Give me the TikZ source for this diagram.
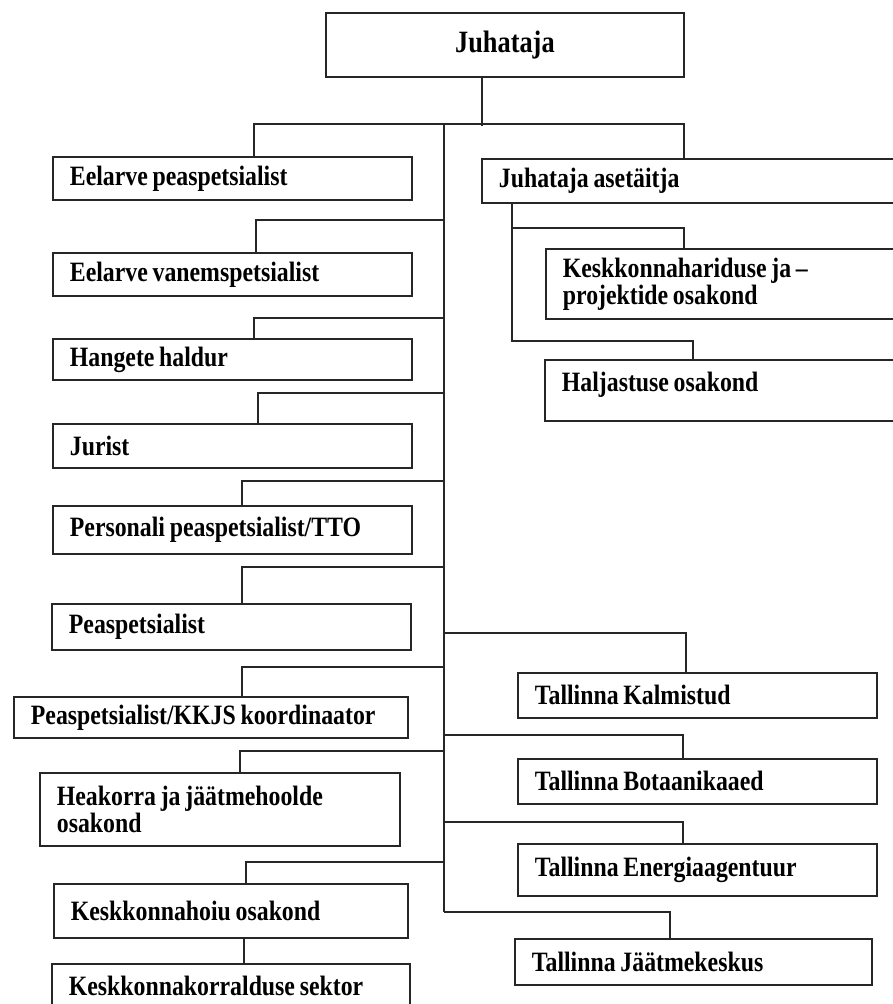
\documentclass[tikz,border=0pt]{standalone}
\usepackage{fontspec}
\setmainfont{Liberation Serif}[FakeStretch=0.85,WordSpace=0.8]
\begin{document}
\begin{tikzpicture}[x=1pt,y=-1pt,
  unit/.style={draw=black!85,line width=1.8pt,anchor=north west,inner xsep=17pt,inner ysep=2pt,align=flush left,font=\bfseries\fontsize{28}{27}\selectfont},
  ln/.style={draw=black!85,line width=1.3pt}]
  \useasboundingbox (0,0) rectangle (893,1004);
  \clip (0,0) rectangle (893,1004);
  \node[unit,align=center,text width=324pt,minimum height=64pt,font=\bfseries\fontsize{31}{32}\selectfont] (juh) at (325,12) {Juhataja};
  \node[unit,text width=325pt,minimum height=43pt] (eps) at (52,156) {Eelarve peaspetsialist};
  \node[unit,text width=405pt,minimum height=44pt] (asj) at (481,158) {Juhataja asetäitja};
  \node[unit,text width=325pt,minimum height=43pt] (evs) at (52,252) {Eelarve vanemspetsialist};
  \node[unit,text width=341pt,minimum height=70pt] (kkhar) at (545,248) {Keskkonnahariduse ja –\\projektide osakond};
  \node[unit,text width=325pt,minimum height=41pt] (hang) at (52,338) {Hangete haldur};
  \node[unit,text width=342pt,minimum height=61pt,text depth=18pt] (halj) at (544,359) {Haljastuse osakond};
  \node[unit,text width=325pt,minimum height=44pt] (jur) at (52,423) {Jurist};
  \node[unit,text width=325pt,minimum height=48pt] (pers) at (52,505) {Personali peaspetsialist/TTO};
  \node[unit,text width=325pt,minimum height=46pt] (peas) at (51,603) {Peaspetsialist};
  \node[unit,text width=325pt,minimum height=45pt] (kalm) at (517,672) {Tallinna Kalmistud};
  \node[unit,text width=360pt,minimum height=41pt] (kkjs) at (13,696) {Peaspetsialist/KKJS koordinaator};
  \node[unit,text width=325pt,minimum height=45pt] (bot) at (517,758) {Tallinna Botaanikaaed};
  \node[unit,text width=326pt,minimum height=73pt] (heak) at (39,772) {Heakorra ja jäätmehoolde\\osakond};
  \node[unit,text width=325pt,minimum height=52pt] (ener) at (517,843) {Tallinna Energiaagentuur};
  \node[unit,text width=320pt,minimum height=54pt] (kkh) at (53,883) {Keskkonnahoiu osakond};
  \node[unit,text width=323pt,minimum height=46pt] (jaat) at (514,938) {Tallinna Jäätmekeskus};
  \node[unit,text width=324pt,minimum height=44pt] (kkor) at (51,963) {Keskkonnakorralduse sektor};
  \coordinate (sp) at (444,124);
  \coordinate (spe) at (444,912);
  \draw[ln] ([xshift=-23pt]juh.south) -- ++(0,48);
  \draw[ln] ([xshift=21.5pt]eps.north) -- ++(0,-32) -| ([xshift=-17.5pt]asj.north);
  \draw[ln] (sp) -- (spe);
  \draw[ln] ([xshift=23.5pt]evs.north) -- ++(0,-32) -| (sp);
  \draw[ln] ([xshift=21.5pt]hang.north) -- ++(0,-20) -| (sp);
  \draw[ln] ([xshift=25.5pt]jur.north) -- ++(0,-30) -| (sp);
  \draw[ln] ([xshift=9.5pt]pers.north) -- ++(0,-24) -| (sp);
  \draw[ln] ([xshift=10.5pt]peas.north) -- ++(0,-36) -| (sp);
  \draw[ln] ([xshift=31pt]kkjs.north) -- ++(0,-29) -| (sp);
  \draw[ln] ([xshift=20pt]heak.north) -- ++(0,-21) -| (sp);
  \draw[ln] ([xshift=15pt]kkh.north) -- ++(0,-21) -| (sp);
  \draw[ln] ([xshift=13pt]kkh.south) -- ([xshift=13pt]kkor.north);
  \draw[ln] ([xshift=-11.5pt]kalm.north) -- ++(0,-39) -| (spe);
  \draw[ln] ([xshift=-14.5pt]bot.north) -- ++(0,-23) -| (spe);
  \draw[ln] ([xshift=-14.5pt]ener.north) -- ++(0,-21) -| (spe);
  \draw[ln] ([xshift=-23.5pt]jaat.north) -- ++(0,-26) -| (spe);
  \draw[ln] ([xshift=-49.5pt]kkhar.north) -- ++(0,-20) -| ([xshift=31pt]asj.south west);
  \draw[ln] ([xshift=-40pt]halj.north) -- ++(0,-18) -| ([xshift=31pt]asj.south west);
\end{tikzpicture}
\end{document}
